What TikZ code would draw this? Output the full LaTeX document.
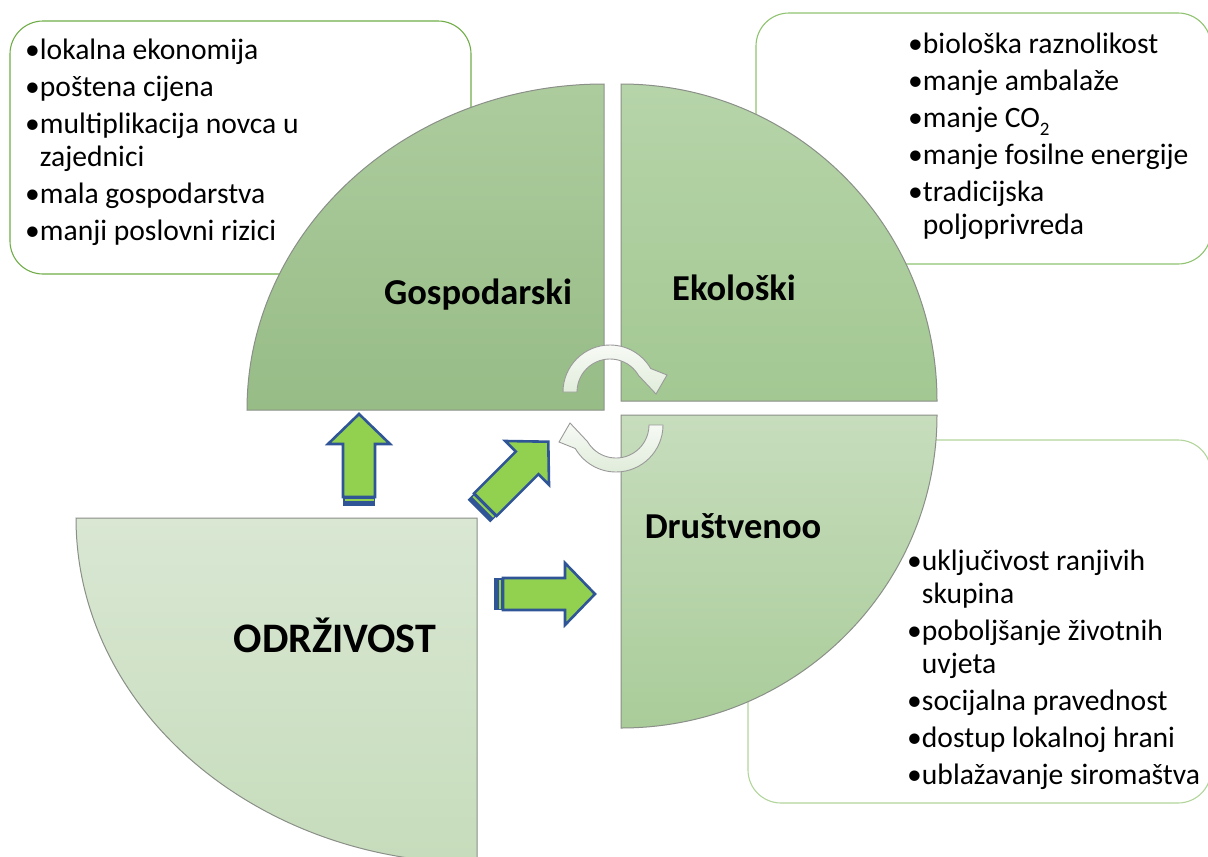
\documentclass[tikz,border=0pt]{standalone}
\usepackage{fontspec}
\setmainfont{Carlito}
\definecolor{pieline}{HTML}{8A8F88}
\definecolor{gTop}{HTML}{ADCC9E}
\definecolor{gBot}{HTML}{97BC86}
\definecolor{eTop}{HTML}{B6D4A9}
\definecolor{eBot}{HTML}{A3C892}
\definecolor{dTop}{HTML}{C7DDBD}
\definecolor{dBot}{HTML}{A9CC99}
\definecolor{oTop}{HTML}{D9E7D3}
\definecolor{oBot}{HTML}{C6DCBB}
\definecolor{boxA}{HTML}{70AD47}
\definecolor{boxB}{HTML}{8FC36F}
\definecolor{boxC}{HTML}{B2D59C}
\definecolor{arrFill}{HTML}{92D050}
\definecolor{arrLine}{HTML}{2F5597}
\definecolor{cycTop}{HTML}{F7FAF5}
\definecolor{cycBot}{HTML}{E0ECDA}
\definecolor{cycLine}{HTML}{9A9A9A}
\newcommand\itemfont{\fontsize{29.6}{35}\selectfont}
\newcommand\headfont{\fontsize{36.5}{40}\selectfont\bfseries}
\newcommand\titlefont{\fontsize{42}{46}\selectfont\bfseries}
\newcommand\cont{\phantom{•}}
\newcommand\subtwo{\raisebox{-0.28em}{\fontsize{19}{19}\selectfont 2}}
\tikzset{
  listbox/.style={line width=1.1pt, rounded corners=33pt, fill=white},
  piepart/.style={draw=pieline, line width=1pt},
  heading/.style={anchor=base, inner sep=0pt, font=\headfont},
  item/.style={anchor=base west, inner sep=0pt, font=\itemfont},
  cycarrow/.style={draw=cycLine, line width=0.9pt, top color=cycTop, bottom color=cycBot},
  pics/blockarrow/.style={code={
    % tail stripes, body and head of a striped block arrow along +x
    \fill[arrLine] (0,-16) rectangle (9,16);
    \fill[arrFill] (5.2,-14.5) rectangle (7.2,14.5);
    \draw[fill=arrFill, draw=arrLine, line width=2.6pt, line join=miter]
      (9,-16) -- (#1-30,-16) -- (#1-30,-31) -- (#1,0) -- (#1-30,31) -- (#1-30,16) -- (9,16) -- cycle;
  }}
}
\begin{document}
\begin{tikzpicture}[x=1pt, y=-1pt]
\useasboundingbox (0,0) rectangle (1208,857);

% list frames behind the quarters
\draw[listbox, draw=boxA] (10,21) rectangle (471,274);
\draw[listbox, draw=boxB] (756,13) rectangle (1211,264);
\draw[listbox, draw=boxC] (748,440) rectangle (1211,803);

% the four quarters
\path[piepart, top color=gTop, bottom color=gBot]
  (604,410) -- (247,410) arc[start angle=180, end angle=270, x radius=357, y radius=326] -- cycle;
\path[piepart, top color=eTop, bottom color=eBot]
  (621,401) -- (621,84) arc[start angle=270, end angle=360, x radius=316, y radius=317] -- cycle;
\path[piepart, top color=dTop, bottom color=dBot]
  (621,415) -- (937,415) arc[start angle=0, end angle=90, x radius=316, y radius=313] -- cycle;
\path[piepart, top color=oTop, bottom color=oBot]
  (477,518) -- (477,863) arc[start angle=90, end angle=180, x radius=401, y radius=345] -- cycle;

\node[heading] (gosp) at (478,304) {Gospodarski};
\node[heading] (eko) at (734,300) {Ekološki};
\node[heading] (drus) at (733,538) {Društvenoo};
\node[anchor=base, inner sep=0pt, font=\titlefont] (odr) at (335,652) {ODRŽIVOST};

% cycle arrows between the quarters
\begin{scope}[shift={(610,392)}, yscale=-1]
  \path[cycarrow] (180:47) arc[start angle=180, end angle=30, radius=47]
    -- (57,17) -- (46,-2) -- (30:33) arc[start angle=30, end angle=180, radius=33] -- cycle;
\end{scope}
\begin{scope}[shift={(616,425)}, rotate=180, yscale=-1]
  \path[cycarrow] (180:47) arc[start angle=180, end angle=30, radius=47]
    -- (57,17) -- (46,-2) -- (30:33) arc[start angle=30, end angle=180, radius=33] -- cycle;
\end{scope}

% block arrows out of the base quarter
\pic[rotate=90] (upArrow) at (359,506) {blockarrow=92};
\pic[rotate=45] (diagArrow) at (479,511) {blockarrow=98};
\pic (rightArrow) at (494,594) {blockarrow=101};

% economic list
\node[item] (g1) at (25,59) {•lokalna ekonomija};
\node[item] (g2) at (25,96) {•poštena cijena};
\node[item] (g3) at (25,133) {•multiplikacija novca u};
\node[item] (g3b) at (25,166) {\cont zajednici};
\node[item] (g4) at (25,203) {•mala gospodarstva};
\node[item] (g5) at (25,240) {•manji poslovni rizici};

% ecological list
\node[item] (e1) at (908,53) {•biološka raznolikost};
\node[item] (e2) at (908,90) {•manje ambalaže};
\node[item] (e3) at (908,127) {•manje CO\subtwo};
\node[item] (e4) at (908,164) {•manje fosilne energije};
\node[item] (e5) at (908,201) {•tradicijska};
\node[item] (e5b) at (908,234) {\cont poljoprivreda};

% social list
\node[item] (d1) at (907,570) {•uključivost ranjivih};
\node[item] (d1b) at (907,603) {\cont skupina};
\node[item] (d2) at (907,640) {•poboljšanje životnih};
\node[item] (d2b) at (907,673) {\cont uvjeta};
\node[item] (d3) at (907,710) {•socijalna pravednost};
\node[item] (d4) at (907,747) {•dostup lokalnoj hrani};
\node[item] (d5) at (907,784) {•ublažavanje siromaštva};
\end{tikzpicture}
\end{document}
